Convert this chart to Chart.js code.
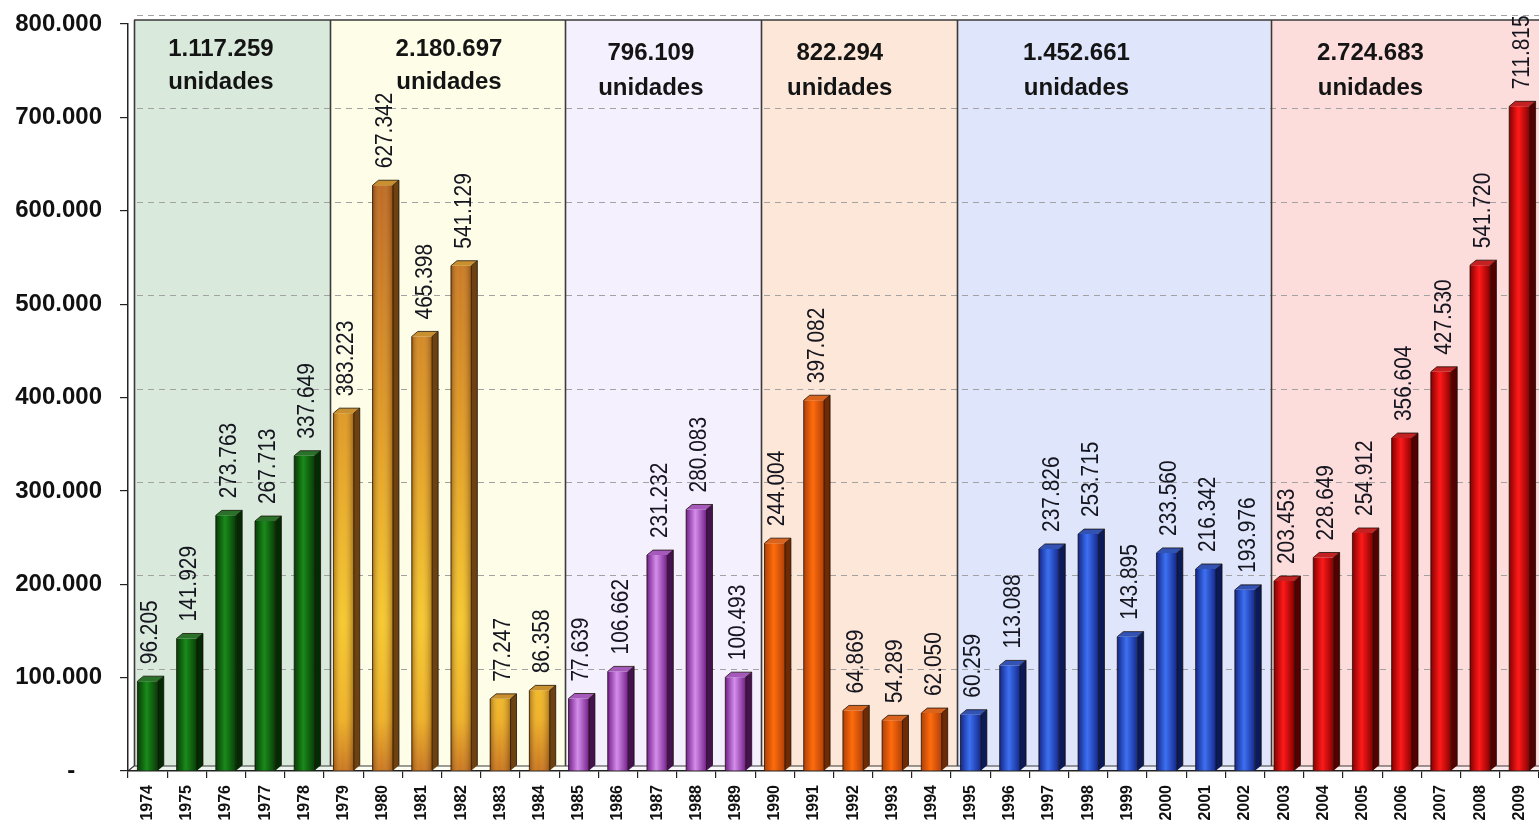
<!DOCTYPE html>
<html><head><meta charset="utf-8">
<script src="https://cdn.jsdelivr.net/npm/chart.js@4.4.1/dist/chart.umd.min.js"></script>
<style>html,body{margin:0;padding:0;background:#fff;overflow:hidden}canvas{display:block}</style>
</head><body>
<canvas id="c" width="1539" height="827" style="width:1539px;height:827px"></canvas>
<script>
// ---------------- DATA ----------------
const years = ['1974','1975','1976','1977','1978','1979','1980','1981','1982','1983','1984','1985','1986','1987','1988','1989','1990','1991','1992','1993','1994','1995','1996','1997','1998','1999','2000','2001','2002','2003','2004','2005','2006','2007','2008','2009'];
const units = [96205,141929,273763,267713,337649,383223,627342,465398,541129,77247,86358,77639,106662,231232,280083,100493,244004,397082,64869,54289,62050,60259,113088,237826,253715,143895,233560,216342,193976,203453,228649,254912,356604,427530,541720,711815];
const groupSizes = [5,6,5,5,8,7];
const groupCaption = 'unidades';
const yTickLabels = ['-    ','100.000','200.000','300.000','400.000','500.000','600.000','700.000','800.000'];

// ---------------- STYLE ----------------
const FONT = '"Liberation Sans", Arial, Helvetica, sans-serif';
const BAR_PCT = 0.52;
const DEPTH_X = 6, DEPTH_Y = 5, WALL_DX = 6, GRID_DY = 9;
const groupFill = ['#d9eadd','#fefde8','#f4f0fd','#fde7d8','#dfe6fb','#fddcdc'];
const groupBar = [
  {edge:'#073c07', center:'#1a8a1a', side:'#042a04', top:'#2a722a'},
  {vertical:[[0,'#9a4a12'],[0.25,'#c0661a'],[0.55,'#e2981c'],[0.8,'#f7c626'],[0.93,'#f0ae1e'],[1,'#c86e16']], side:'#6e4210', top:'#c8902e'},
  {edge:'#74208a', center:'#d48eea', side:'#43124f', top:'#a55abb'},
  {edge:'#b04008', center:'#ff6c0c', side:'#6e2a04', top:'#d8641e'},
  {edge:'#14288a', center:'#3d70f2', side:'#0b1a58', top:'#3252b4'},
  {edge:'#880000', center:'#ff1a1a', side:'#520000', top:'#c42222'}
];
const captionAnchor = [2.37, 8.19, 13.34, 18.16, 24.2, 31.7]; // in category units
const captionY = [[49,82],[49,82],[53,88],[53,88],[53,88],[53,88]];

const groupOf = [];
groupSizes.forEach((n,g)=>{for(let i=0;i<n;i++) groupOf.push(g);});
const groupStart = [];
{let s=0; groupSizes.forEach(n=>{groupStart.push(s); s+=n;});}
const groupTotals = groupSizes.map((n,g)=>units.slice(groupStart[g], groupStart[g]+n).reduce((a,b)=>a+b,0));

function fmt(v){ return String(v).replace(/\B(?=(\d{3})+(?!\d))/g,'.'); }

function barFill(ctx){
  const chart = ctx.chart, area = chart.chartArea;
  const st = groupBar[groupOf[ctx.dataIndex]];
  if(!area) return st.center || '#d08a20';
  const c = chart.ctx;
  if(st.vertical){
    const ys = chart.scales.y;
    const gr = c.createLinearGradient(0, ys.getPixelForValue(800000), 0, ys.getPixelForValue(0));
    st.vertical.forEach(([p,col])=>gr.addColorStop(p,col));
    return gr;
  }
  const xs = chart.scales.x;
  const cx = xs.getPixelForValue(ctx.dataIndex);
  const hw = (area.right-area.left)/years.length*BAR_PCT/2;
  const gr = c.createLinearGradient(cx-hw,0,cx+hw,0);
  gr.addColorStop(0, st.edge); gr.addColorStop(0.45, st.center); gr.addColorStop(1, st.edge);
  return gr;
}

const deco = {
  id:'deco',
  beforeDraw(chart){
    const c = chart.ctx, a = chart.chartArea, ys = chart.scales.y;
    const W = chart.width;
    const cw = (a.right-a.left)/years.length;
    const topY = ys.getPixelForValue(800000) - 4;
    const floorY = a.bottom - DEPTH_Y;
    c.save();
    c.fillStyle='#fff'; c.fillRect(0,0,W,chart.height);
    const bx = k => a.left + k*cw + WALL_DX;
    groupSizes.forEach((n,g)=>{
      const x0 = bx(groupStart[g]);
      const x1 = g===groupSizes.length-1 ? W : bx(groupStart[g]+n);
      c.fillStyle = groupFill[g];
      c.fillRect(x0, topY, x1-x0, a.bottom-topY);
    });
    c.fillStyle='rgba(255,255,255,0.45)';
    c.fillRect(a.left+WALL_DX, floorY, W, a.bottom-floorY);
    c.strokeStyle='#a2a2a2'; c.lineWidth=1; c.setLineDash([6,5]);
    for(let v=100000; v<=800000; v+=100000){
      const y = Math.round(ys.getPixelForValue(v) - GRID_DY)+0.5;
      c.beginPath(); c.moveTo(a.left+WALL_DX+3,y); c.lineTo(W,y); c.stroke();
    }
    c.setLineDash([]);
    c.strokeStyle='#3a3a3a'; c.lineWidth=1.6;
    c.beginPath(); c.moveTo(bx(0), topY); c.lineTo(W, topY); c.stroke();
    groupStart.forEach(s=>{
      const x = Math.round(bx(s))+0.5;
      c.beginPath(); c.moveTo(x, topY); c.lineTo(x, floorY); c.stroke();
    });
    c.lineWidth=1.2;
    c.beginPath(); c.moveTo(bx(0), floorY); c.lineTo(W, floorY); c.stroke();
    c.beginPath(); c.moveTo(a.left, a.bottom); c.lineTo(bx(0), floorY); c.stroke();
    c.restore();
  },
  afterDatasetsDraw(chart){
    const c = chart.ctx, a = chart.chartArea;
    const meta = chart.getDatasetMeta(0);
    const cw = (a.right-a.left)/years.length;
    c.save();
    meta.data.forEach((el,i)=>{
      const st = groupBar[groupOf[i]];
      const p = el.getProps(['x','y','base','width'], true);
      const l = p.x - p.width/2, r = p.x + p.width/2, t = p.y, b = p.base;
      if(st.vertical){
        const g = c.createLinearGradient(l,0,r,0);
        g.addColorStop(0,'rgba(90,40,0,0.45)'); g.addColorStop(0.45,'rgba(255,255,200,0.05)'); g.addColorStop(1,'rgba(90,40,0,0.45)');
        c.fillStyle=g; c.fillRect(l,t,r-l,b-t);
      }
      c.fillStyle = st.side;
      c.beginPath(); c.moveTo(r,t); c.lineTo(r+DEPTH_X,t-DEPTH_Y); c.lineTo(r+DEPTH_X,b-DEPTH_Y); c.lineTo(r,b); c.closePath(); c.fill();
      c.fillStyle = st.top;
      c.beginPath(); c.moveTo(l,t); c.lineTo(l+DEPTH_X,t-DEPTH_Y); c.lineTo(r+DEPTH_X,t-DEPTH_Y); c.lineTo(r,t); c.closePath(); c.fill();
      c.strokeStyle='rgba(20,10,0,0.75)'; c.lineWidth=1;
      c.beginPath(); c.moveTo(l,b); c.lineTo(l,t); c.lineTo(l+DEPTH_X,t-DEPTH_Y); c.lineTo(r+DEPTH_X,t-DEPTH_Y); c.lineTo(r+DEPTH_X,b-DEPTH_Y); c.stroke();
      c.beginPath(); c.moveTo(r,b); c.lineTo(r,t); c.lineTo(r+DEPTH_X,t-DEPTH_Y); c.stroke();
      c.save();
      c.translate(p.x + DEPTH_X/2, t - 17);
      c.rotate(-Math.PI/2);
      c.scale(0.87,1);
      c.font = '24px '+FONT;
      c.textAlign='left'; c.textBaseline='middle';
      c.fillStyle='#15151f';
      c.fillText(fmt(units[i]),0,0);
      c.restore();
    });
    c.font = 'bold 24px '+FONT;
    c.textAlign='center'; c.textBaseline='middle'; c.fillStyle='#141414';
    groupSizes.forEach((n,g)=>{
      const x = a.left + captionAnchor[g]*cw;
      c.fillText(fmt(groupTotals[g]), x, captionY[g][0]);
      c.fillText(groupCaption, x, captionY[g][1]);
    });
    c.restore();
  }
};

new Chart(document.getElementById('c'), {
  type:'bar',
  data:{ labels: years, datasets:[{ data: units, backgroundColor: barFill, borderWidth:0, barPercentage:BAR_PCT, categoryPercentage:1 }]},
  options:{
    responsive:false, animation:false, devicePixelRatio:1,
    layout:{ padding:{ top:24, right:0, left:0, bottom:0 } },
    plugins:{ legend:{display:false}, tooltip:{enabled:false} },
    scales:{
      x:{
        grid:{ display:true, drawOnChartArea:false, drawTicks:true, tickLength:7, color:'#222', lineWidth:1.2 },
        border:{ display:true, color:'#222', width:1.5 },
        ticks:{ autoSkip:false, minRotation:90, maxRotation:90, padding:7, color:'#111', font:{ family:FONT, size:16, weight:'bold' } },
        afterFit(s){ s.height = 56; s.paddingLeft = 0; s.paddingRight = 0; s.paddingTop = 0; s.paddingBottom = 0; }
      },
      y:{
        min:0, max:800000,
        grid:{ display:true, drawOnChartArea:false, drawTicks:true, tickLength:8, color:'#222', lineWidth:1.2 },
        border:{ display:true, color:'#222', width:1.5 },
        ticks:{ stepSize:100000, padding:18, color:'#111', font:{ family:FONT, size:24, weight:'bold' },
          callback:(v)=> yTickLabels[Math.round(v/100000)] },
        afterFit(s){ s.width = 128; s.paddingTop = 0; s.paddingBottom = 0; }
      }
    }
  },
  plugins:[deco]
});
</script>
</body></html>
